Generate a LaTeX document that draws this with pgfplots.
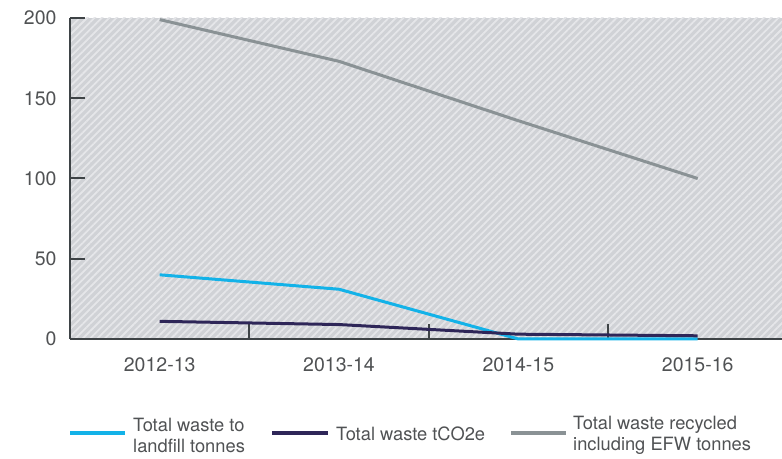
\documentclass[border=0pt]{standalone}
\usepackage{pgfplots}
\pgfplotsset{compat=1.18}
\usepackage{fontspec}
\setmainfont{TeX Gyre Heros}
\usetikzlibrary{patterns.meta}

\definecolor{txt}{HTML}{505254}
\definecolor{axisc}{HTML}{3E4346}
\definecolor{bgc}{HTML}{D0D2D6}
\definecolor{stripe}{HTML}{E5E6E9}
\definecolor{landfill}{HTML}{13B2E8}
\definecolor{co2}{HTML}{2E2658}
\definecolor{recyc}{HTML}{8A9295}

\begin{document}
\begin{tikzpicture}[x=1pt,y=1pt]
\begin{axis}[
  at={(70pt,119pt)}, anchor=south west,
  scale only axis, width=712pt, height=321pt,
  xmin=-0.5, xmax=3.47, ymin=0, ymax=200,
  axis lines=left,
  axis line style={-, draw=axisc, line width=2.4pt},
  tick align=inside,
  major tick length=15pt,
  tick style={draw=axisc, line width=2pt},
  xtick={0.5,1.5,2.5}, xticklabels={},
  extra x ticks={0,1,2,3},
  extra x tick labels={2012-13,2013-14,2014-15,2015-16},
  extra x tick style={major tick length=0pt},
  ytick={0,50,100,150,200},
  /pgf/number format/assume math mode=true,
  ticklabel style={font=\fontsize{19.5}{22}\selectfont, text=txt},
  xticklabel style={yshift=-15pt},
  yticklabel style={xshift=-10pt},
  axis background/.style={fill=bgc,
    postaction={pattern={Lines[angle=45,distance=5.2pt,line width=1.8pt]}, pattern color=stripe}},
  every axis plot/.append style={line width=3pt, line join=round},
  clip=false,
]
% waste recycled including EFW
\addplot[recyc] coordinates {(0,199) (1,173) (2,136) (3,100)};
% waste to landfill
\addplot[landfill] coordinates {(0,40) (1,31) (2,0) (3,0)};
% waste emissions
\addplot[co2] coordinates {(0,11) (1,9) (2,3) (3,2)};
\end{axis}

% key
\begin{scope}[font=\fontsize{18.3}{21}\selectfont, text=txt]
  \draw[landfill, line width=4pt] (70,25) -- (125,25);
  \node[anchor=west, align=left, inner sep=0pt] at (133,23) {Total waste to\\landfill tonnes};
  \draw[co2, line width=4pt] (272,25) -- (328,25);
  \node[anchor=west, inner sep=0pt] at (336,24) {Total waste tCO2e};
  \draw[recyc, line width=4pt] (511,25) -- (566,25);
  \node[anchor=west, align=left, inner sep=0pt] at (573,23) {Total waste recycled\\including EFW tonnes};
\end{scope}

\pgfresetboundingbox
\path (0,0) rectangle (782,458);
\end{tikzpicture}
\end{document}
